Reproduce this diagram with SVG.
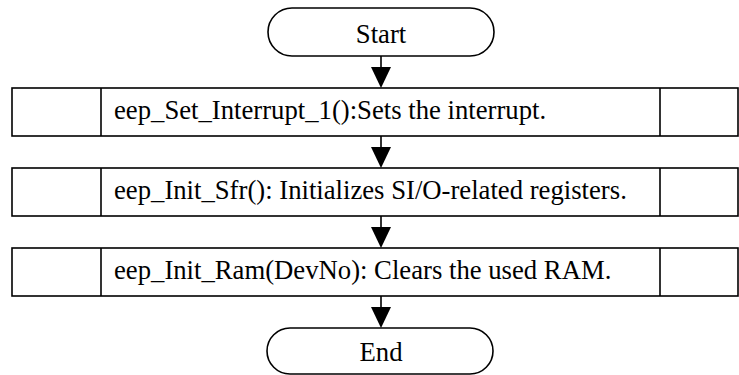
<svg xmlns="http://www.w3.org/2000/svg" width="739" height="375" viewBox="0 0 739 375">
<defs>
<style>
.sh{fill:#fff;stroke:#000;stroke-width:1.6}
.ln{stroke:#000;stroke-width:1.6;fill:none}
.ah{fill:#000}
.t{font-family:"Liberation Serif","Times New Roman",serif;font-size:26.7px;fill:#000}
.c{text-anchor:middle}
</style>
</defs>
<g id="start">
<rect class="sh" x="268" y="8" width="226" height="48" rx="24" ry="24"/>
<text class="t c" x="381" y="43">Start</text>
</g>
<g id="box1">
<rect class="sh" x="12" y="88" width="726" height="48"/>
<line class="ln" x1="101" y1="88" x2="101" y2="136"/>
<line class="ln" x1="660" y1="88" x2="660" y2="136"/>
<text class="t" x="114" y="119">eep_Set_Interrupt_1():Sets the interrupt.</text>
</g>
<g id="box2">
<rect class="sh" x="12" y="168" width="726" height="48"/>
<line class="ln" x1="101" y1="168" x2="101" y2="216"/>
<line class="ln" x1="660" y1="168" x2="660" y2="216"/>
<text class="t" x="114" y="199">eep_Init_Sfr(): Initializes SI/O-related registers.</text>
</g>
<g id="box3">
<rect class="sh" x="12" y="248" width="726" height="48"/>
<line class="ln" x1="101" y1="248" x2="101" y2="296"/>
<line class="ln" x1="660" y1="248" x2="660" y2="296"/>
<text class="t" x="114" y="279">eep_Init_Ram(DevNo): Clears the used RAM.</text>
</g>
<g id="end">
<rect class="sh" x="267" y="328" width="226" height="46" rx="23" ry="23"/>
<text class="t c" x="381" y="361">End</text>
</g>
<g id="connectors">
<line class="ln" x1="381" y1="56" x2="381" y2="68"/>
<path class="ah" d="M371,67 L391,67 L381,88 Z"/>
<line class="ln" x1="381" y1="136" x2="381" y2="148"/>
<path class="ah" d="M371,147 L391,147 L381,168 Z"/>
<line class="ln" x1="381" y1="216" x2="381" y2="228"/>
<path class="ah" d="M371,227 L391,227 L381,248 Z"/>
<line class="ln" x1="381" y1="296" x2="381" y2="308"/>
<path class="ah" d="M371,307 L391,307 L381,328 Z"/>
</g>
</svg>
